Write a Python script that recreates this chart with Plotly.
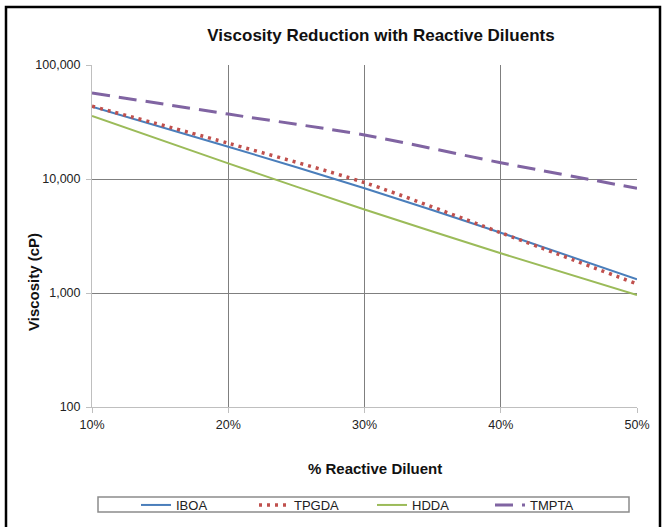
import plotly.graph_objects as go

# % reactive diluent (as fractions) and viscosity in cP
diluent = [0.10, 0.20, 0.30, 0.40, 0.50]
iboa = [43000, 19200, 8300, 3380, 1320]
tpgda = [43500, 20600, 9300, 3380, 1200]
hdda = [35700, 13700, 5400, 2230, 960]
tmpta = [56800, 37100, 24300, 13900, 8300]

y_ticks = [100, 1000, 10000, 100000]
y_tick_labels = ["100", "1,000", "10,000", "100,000"]

W, H = 666, 527
L, R, T, B = 92, 29, 65, 120
pw, ph = W - L - R, H - T - B


def px_x(x):
    return (x - L) / pw


def px_y(y):
    return (H - B - y) / ph


fig = go.Figure()
series = [
    ("IBOA", iboa, dict(color="#4a7ebb", width=2)),
    ("TPGDA", tpgda, dict(color="#c0504d", width=3.5, dash="3px,5px")),
    ("HDDA", hdda, dict(color="#9bbb59", width=2)),
    ("TMPTA", tmpta, dict(color="#8064a2", width=3, dash="18px,9px")),
]
for name, vals, line in series:
    fig.add_trace(go.Scatter(x=diluent, y=vals, name=name, mode="lines",
                             line=dict(shape="spline", smoothing=0.8, **line)))

font = "Liberation Sans, Arial, sans-serif"
fig.update_layout(
    width=W, height=H,
    margin=dict(l=L, r=R, t=T, b=B, autoexpand=False),
    paper_bgcolor="white", plot_bgcolor="white",
    font=dict(family=font, size=12, color="#222222"),
    title=dict(text="<b>Viscosity Reduction with Reactive Diluents</b>",
               x=381 / W, xanchor="center", y=1 - 35 / H, yanchor="middle",
               font=dict(size=17, color="#111111")),
    showlegend=True,
    legend=dict(orientation="h", x=px_x(136), xanchor="left", y=px_y(505), yanchor="middle",
                entrywidth=73, entrywidthmode="pixels", itemwidth=30,
                bgcolor="rgba(0,0,0,0)", borderwidth=0, font=dict(size=13, color="#222222")),
)
fig.update_xaxes(range=[0.1, 0.5], dtick=0.1, tick0=0.1, tickformat=".0%",
                 showgrid=True, gridcolor="#7f7f7f", gridwidth=1,
                 showline=True, linecolor="#bfbfbf", linewidth=1,
                 ticks="outside", ticklen=5, tickcolor="#bfbfbf", ticklabelstandoff=1,
                 tickfont=dict(size=12.5, color="#222222"), zeroline=False)
fig.update_yaxes(type="log", range=[2, 5], tickvals=y_ticks, ticktext=y_tick_labels,
                 showgrid=True, gridcolor="#7f7f7f", gridwidth=1,
                 showline=True, linecolor="#bfbfbf", linewidth=1,
                 ticks="outside", ticklen=5, tickcolor="#bfbfbf", ticklabelstandoff=3,
                 tickfont=dict(size=12.5, color="#222222"), zeroline=False)

fig.add_annotation(text="<b>% Reactive Diluent</b>", xref="paper", yref="paper",
                   x=px_x(375), y=px_y(468), xanchor="center", yanchor="middle",
                   showarrow=False, font=dict(size=15, color="#111111"))
fig.add_annotation(text="<b>Viscosity (cP)</b>", xref="paper", yref="paper", textangle=-90,
                   x=px_x(33), y=px_y(282), xanchor="center", yanchor="middle",
                   showarrow=False, font=dict(size=15, color="#111111"))

# legend box and outer chart frame
fig.add_shape(type="rect", xref="paper", yref="paper",
              x0=px_x(98), x1=px_x(629), y0=px_y(512), y1=px_y(497),
              line=dict(color="#8c8c8c", width=1.5))
fig.add_shape(type="rect", xref="paper", yref="paper",
              x0=px_x(6), x1=px_x(660), y0=px_y(540), y1=px_y(7),
              line=dict(color="black", width=2.5))

fig.write_html("out.html", config={"displayModeBar": False},
               post_script="document.body.style.margin = '0';")
